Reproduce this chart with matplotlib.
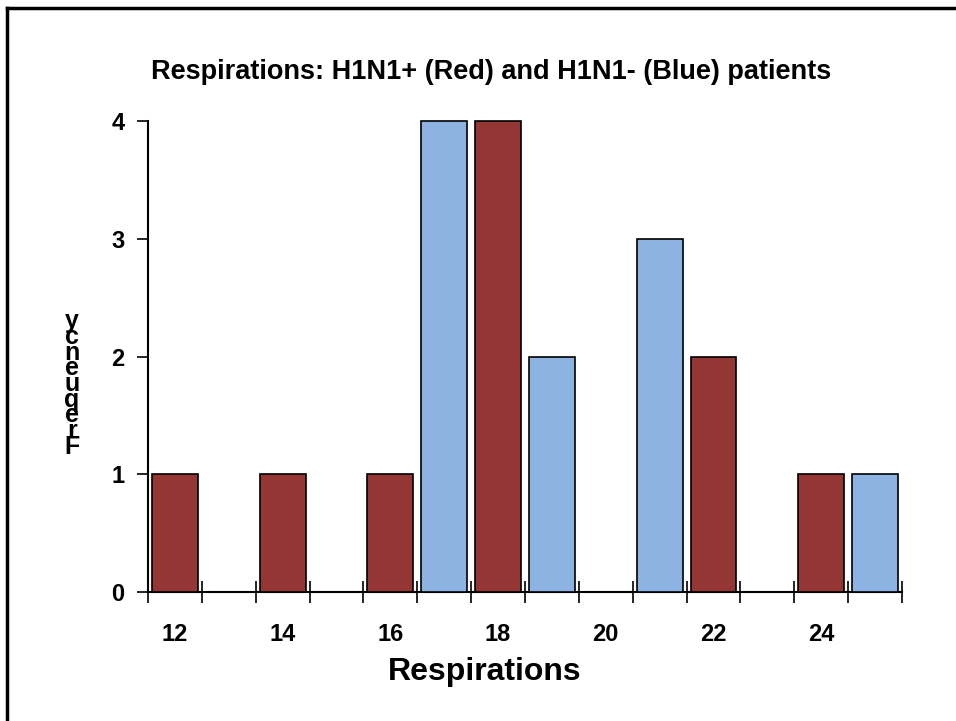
import matplotlib
matplotlib.use("Agg")
import matplotlib.pyplot as plt
from matplotlib.lines import Line2D

# Data
red_x = [12, 14, 16, 18, 22, 24]      # H1N1+ respirations
red_y = [1, 1, 1, 4, 2, 1]
blue_x = [17, 19, 21, 25]             # H1N1- respirations
blue_y = [4, 2, 3, 1]
xtick_labels = [12, 14, 16, 18, 20, 22, 24]
yticks = [0, 1, 2, 3, 4]
title = "Respirations: H1N1+ (Red) and H1N1- (Blue) patients"
xlabel = "Respirations"
ylabel = "Frequency"

RED = '#943634'
BLUE = '#8DB3E2'

plt.rcParams['font.family'] = ['Liberation Sans', 'DejaVu Sans']
plt.rcParams['font.weight'] = 'bold'

fig = plt.figure(figsize=(9.56, 7.21), dpi=100)
ax = fig.add_axes([148/956, 1-592/721, (902-148)/956, (592-121)/721])

ax.bar(red_x, red_y, width=0.85, color=RED, edgecolor='black', linewidth=1.2, clip_on=False, zorder=3)
ax.bar(blue_x, blue_y, width=0.85, color=BLUE, edgecolor='black', linewidth=1.2, clip_on=False, zorder=3)

ax.set_xlim(11.5, 25.5)
ax.set_ylim(0, 4)
ax.spines['top'].set_visible(False)
ax.spines['right'].set_visible(False)
ax.spines['left'].set_linewidth(1.5)
ax.spines['bottom'].set_linewidth(1.5)

ax.set_xticks([v + 0.5 for v in range(11, 26)])
ax.set_xticklabels([])
ax.tick_params(axis='x', which='major', direction='inout', length=16, width=1.2)
ax.set_xticks(xtick_labels, minor=True)
ax.set_xticklabels([str(v) for v in xtick_labels], minor=True, fontsize=17, fontweight='bold')
ax.tick_params(axis='x', which='minor', length=0, pad=22)

ax.set_yticks(yticks)
ax.set_yticklabels([str(v) for v in yticks], fontsize=17, fontweight='bold')
ax.tick_params(axis='y', direction='out', length=8, width=1.2, pad=9)

ax.set_xlabel(xlabel, fontsize=23, fontweight='bold', labelpad=10)
ax.xaxis.set_label_coords((485 - 148) / 754, -(672 - 592) / 471, transform=ax.transAxes)
ax.xaxis.label.set_va('center')
fig.text(0.5 * (150 + 833) / 956, 1 - 72/721, title, ha='center', va='center', fontsize=19.5, fontweight='bold')

# stacked y-label letters (bottom to top)
for i, ch in enumerate(ylabel):
    fig.text(72/956, 1 - (454 - i*15.75)/721, ch, ha='center', va='baseline', fontsize=18, fontweight='bold')

# outer frame (top and left)
fig.add_artist(Line2D([7/956, 7/956], [0, 1 - 8/721], color='black', linewidth=2.5, transform=fig.transFigure))
fig.add_artist(Line2D([7/956, 1], [1 - 8/721, 1 - 8/721], color='black', linewidth=2.5, transform=fig.transFigure))

fig.savefig('out.png', dpi=100)
